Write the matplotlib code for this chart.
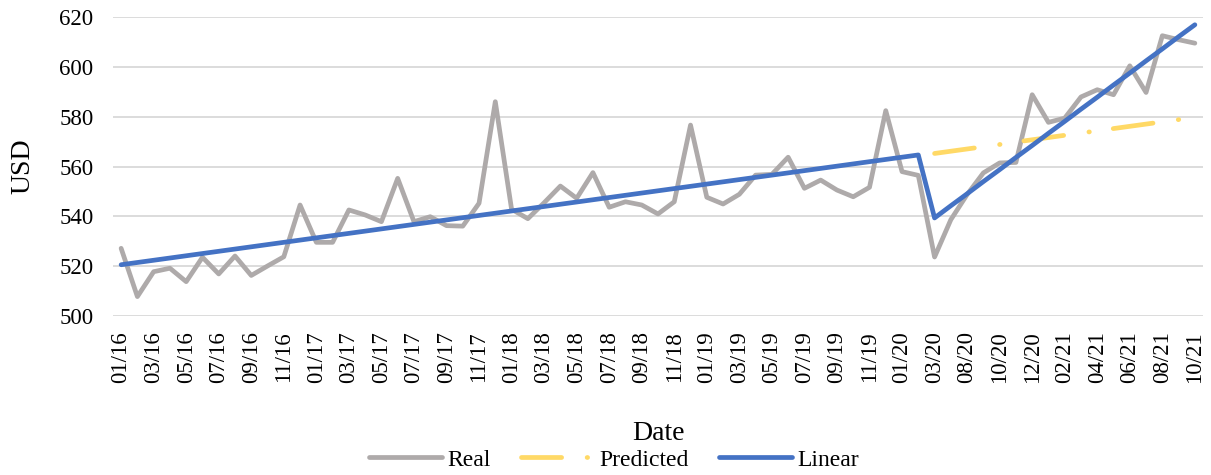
import numpy as np
import matplotlib.pyplot as plt

plt.rcParams['font.family'] = ['Liberation Serif', 'DejaVu Serif']

dates = ['01/16', '02/16', '03/16', '04/16', '05/16', '06/16', '07/16', '08/16', '09/16', '10/16', '11/16', '12/16',
         '01/17', '02/17', '03/17', '04/17', '05/17', '06/17', '07/17', '08/17', '09/17', '10/17', '11/17', '12/17',
         '01/18', '02/18', '03/18', '04/18', '05/18', '06/18', '07/18', '08/18', '09/18', '10/18', '11/18', '12/18',
         '01/19', '02/19', '03/19', '04/19', '05/19', '06/19', '07/19', '08/19', '09/19', '10/19', '11/19', '12/19',
         '01/20', '02/20', '03/20', '07/20', '08/20', '09/20', '10/20', '11/20', '12/20', '01/21', '02/21', '03/21',
         '04/21', '05/21', '06/21', '07/21', '08/21', '09/21', '10/21']

real = [527.2, 507.8, 517.8, 519.2, 513.8, 523.6, 516.9, 524.1, 516.3, 520.1, 523.8, 544.6,
        529.6, 529.6, 542.6, 540.6, 537.9, 555.3, 537.9, 539.9, 536.3, 536.1, 545.3, 586.1,
        542.9, 539.1, 545.5, 552.2, 547.3, 557.6, 543.7, 545.9, 544.6, 541.0, 545.9, 576.7,
        547.7, 545.0, 548.9, 556.6, 556.9, 563.8, 551.3, 554.6, 550.6, 547.9, 551.7, 582.5,
        558.0, 556.5, 523.7, 538.7, 548.8, 557.5, 561.5, 561.7, 588.9, 577.8, 579.5, 588.0,
        590.9, 588.9, 600.5, 589.8, 612.6, 611.0, 609.6]

# trend lines, predicted starts at 03/20
linear = [520.6, 521.5, 522.4, 523.3, 524.2, 525.1, 526.0, 526.9, 527.8, 528.7, 529.6, 530.5,
          531.4, 532.3, 533.2, 534.1, 535.0, 535.9, 536.8, 537.7, 538.6, 539.5, 540.4, 541.3,
          542.2, 543.1, 544.0, 544.9, 545.8, 546.7, 547.6, 548.5, 549.4, 550.3, 551.2, 552.1,
          553.0, 553.9, 554.8, 555.7, 556.6, 557.5, 558.4, 559.3, 560.2, 561.1, 562.0, 562.9,
          563.8, 564.7, 539.4, 544.3, 549.1, 554.0, 558.8, 563.7, 568.5, 573.4, 578.2, 583.1,
          587.9, 592.8, 597.6, 602.5, 607.3, 612.2, 617.0]
pred_start = 50
predicted = [565.3, 566.2, 567.1, 568.0, 568.9, 569.9, 570.8, 571.7, 572.6, 573.5, 574.4, 575.3,
             576.2, 577.1, 578.0, 578.9, 579.8]

x = np.arange(len(dates))

fig = plt.figure(figsize=(12.11, 4.75), dpi=100)
ax = fig.add_axes([0.0933, 0.3347, 0.9001, 0.6289])

lw = 3.4
ax.plot(x, real, color='#AEAAAA', lw=lw, solid_capstyle='round', solid_joinstyle='round', label='Real')
ax.plot(x[pred_start:], predicted, color='#FFD966', lw=lw, dashes=(8.5, 5.4, 0.1, 5.1),
        dash_capstyle='round', label='Predicted')
ax.plot(x, linear, color='#4472C4', lw=lw, solid_capstyle='round', solid_joinstyle='round', label='Linear')

ax.set_xlim(-0.5, len(dates) - 0.5)
ax.set_ylim(500, 620)
ax.set_yticks(np.arange(500, 621, 20))
ax.set_xticks(x[::2])
ax.set_xticklabels(dates[::2], rotation=90)
ax.tick_params(axis='both', length=0, labelsize=16.5)
ax.tick_params(axis='y', pad=14)
ax.tick_params(axis='x', pad=11)
ax.grid(axis='y', color='#D9D9D9', lw=1.3)
ax.set_axisbelow(True)
for s in ax.spines.values():
    s.set_visible(False)

ax.set_ylabel('USD', fontsize=20, labelpad=17)
ax.set_xlabel('Date', fontsize=20, labelpad=27)

fig.legend(loc='center', bbox_to_anchor=(0.507, 0.032), ncol=3, frameon=False, fontsize=17,
           handlelength=3.1, handletextpad=0.2, columnspacing=1.3, borderaxespad=0)

fig.savefig('out.png', dpi=100)
